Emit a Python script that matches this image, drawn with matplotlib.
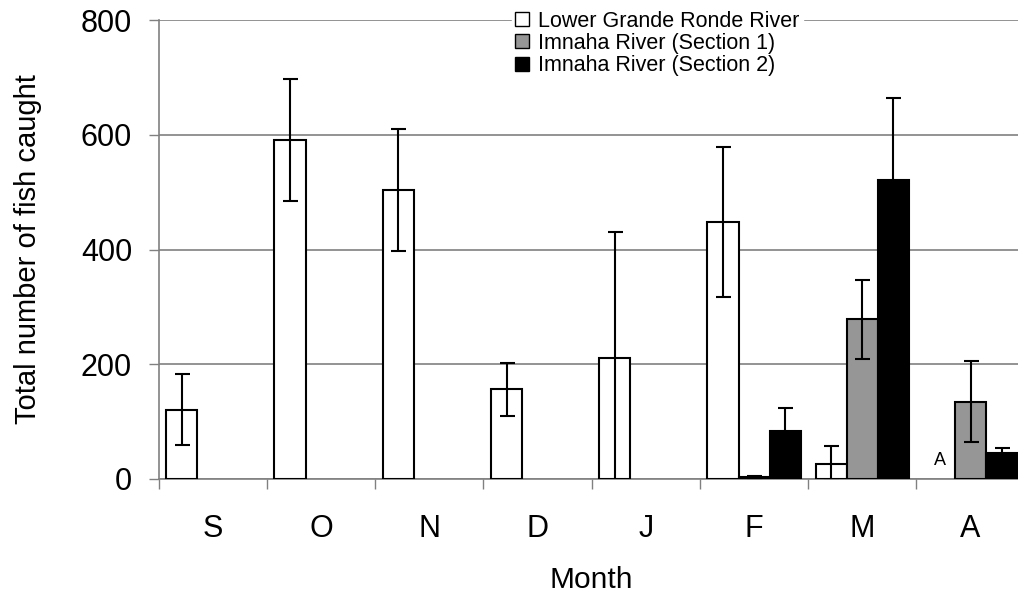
import numpy as np
from matplotlib import pyplot as plt
from matplotlib.ticker import FixedLocator

plt.rcParams['font.family'] = ['Liberation Sans', 'DejaVu Sans']

# months on the x axis
months = ['S', 'O', 'N', 'D', 'J', 'F', 'M', 'A']

# mean catch per month (nan = no sampling)
grande_ronde = [121, 591, 504, 156, 211, 448, 27, np.nan]
imnaha_1 = [np.nan, np.nan, np.nan, np.nan, np.nan, 4, 278, 135]
imnaha_2 = [np.nan, np.nan, np.nan, np.nan, np.nan, 84, 522, 45]

# error bar half widths
grande_ronde_err = [62, 106, 106, 47, 220, 130, 31, np.nan]
imnaha_1_err = [np.nan, np.nan, np.nan, np.nan, np.nan, 2, 68, 70]
imnaha_2_err = [np.nan, np.nan, np.nan, np.nan, np.nan, 40, 142, 9]

series = [
    ('Lower Grande Ronde River', grande_ronde, grande_ronde_err, 'white'),
    ('Imnaha River (Section 1)', imnaha_1, imnaha_1_err, '#969696'),
    ('Imnaha River (Section 2)', imnaha_2, imnaha_2_err, 'black'),
]

fig = plt.figure(figsize=(10.18, 5.95), dpi=100)
ax = fig.add_axes([158.7 / 1018, 116 / 595, 866 / 1018, 459 / 595])

width = 0.287
x = np.arange(len(months)) + 0.5
handles = []
for i, (name, vals, errs, color) in enumerate(series):
    vals = np.array(vals, dtype=float)
    errs = np.array(errs, dtype=float)
    pos = x + (i - 1) * width
    ok = ~np.isnan(vals)
    b = ax.bar(pos[ok], vals[ok], width=width, color=color, edgecolor='black',
               linewidth=1.5, zorder=3, label=name)
    ax.errorbar(pos[ok], vals[ok], yerr=errs[ok], fmt='none', ecolor='black',
                elinewidth=1.5, capsize=5.4, capthick=1.5, zorder=4)
    handles.append(b)

# no Grande Ronde sample in April
ax.text(x[7] - width, 33, 'A', ha='center', va='center', fontsize=13, zorder=5)

ax.set_xlim(0, len(months))
ax.set_ylim(0, 800)
ax.set_yticks([0, 200, 400, 600, 800])
ax.yaxis.grid(True, color='#808080', linewidth=1.2, zorder=0)
ax.set_axisbelow(True)

ax.xaxis.set_major_locator(FixedLocator(np.arange(len(months) + 1)))
ax.xaxis.set_minor_locator(FixedLocator(x))
ax.set_xticklabels([], minor=False)
ax.set_xticklabels(months, minor=True)
ax.tick_params(axis='x', which='major', length=7.2, color='#808080', width=1)
ax.tick_params(axis='x', which='minor', length=0, pad=25, labelsize=22)
ax.tick_params(axis='y', length=7.2, color='#808080', width=1, pad=12, labelsize=22)

for s in ['top', 'right']:
    ax.spines[s].set_visible(False)
for s in ['left', 'bottom']:
    ax.spines[s].set_color('#808080')
    ax.spines[s].set_linewidth(1.2)

ax.set_xlabel('Month', fontsize=21.5, labelpad=16)
ax.set_ylabel('Total number of fish caught', fontsize=21, labelpad=28)

leg = fig.legend(handles=handles, loc='upper left', bbox_to_anchor=(512 / 1018, 0.987),
                 fontsize=15.5, frameon=True, fancybox=False, edgecolor='white',
                 framealpha=1, borderpad=0.15, borderaxespad=0, handlelength=0.62,
                 handleheight=0.62, handletextpad=0.45, labelspacing=0.05)
for h in leg.legend_handles:
    h.set_linewidth(1.0)

plt.savefig('out.png', dpi=100)
